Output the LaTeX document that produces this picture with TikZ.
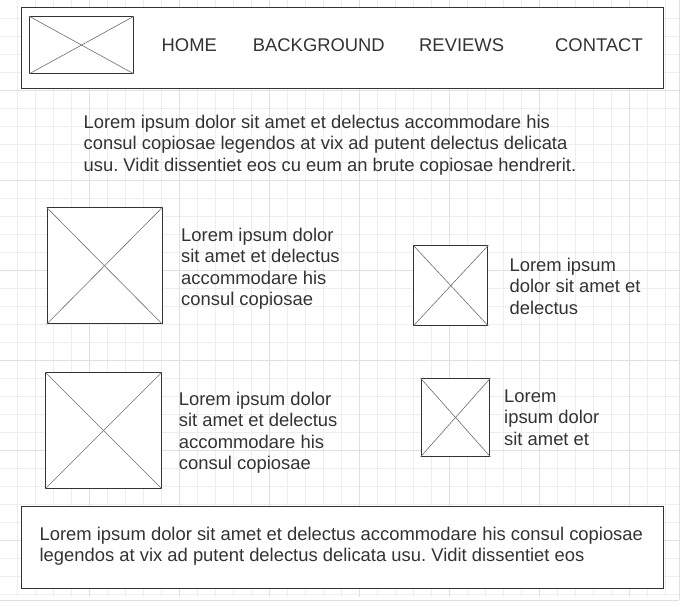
\documentclass[tikz,border=0pt]{standalone}
\usepackage{fontspec}
\setmainfont{Liberation Sans}
\definecolor{ink}{RGB}{51,51,51}
\definecolor{diag}{RGB}{110,110,110}
\definecolor{gridminor}{RGB}{238,238,238}
\definecolor{gridmajor}{RGB}{224,224,224}
\tikzset{
  frame/.style={draw=ink, line width=1pt, fill=white},
  cross/.style={draw=diag, line width=0.6pt},
  txt/.style={inner sep=0pt, text=ink, align=left, anchor=north west, font=\fontsize{18.4}{21.5}\selectfont\frenchspacing},
  nav/.style={inner sep=0pt, text=ink, anchor=base west, font=\fontsize{18.4}{21.5}\selectfont},
}
\begin{document}
\begin{tikzpicture}[x=1pt,y=-1pt]
\useasboundingbox (0,0) rectangle (681,606);
\fill[white] (0,0) rectangle (681,606);
% grid
\foreach \i in {1,...,37} {
  \pgfmathsetmacro{\xx}{18*\i-0.5}
  \draw[gridminor, line width=0.7pt] (\xx,0) -- (\xx,597);
}
\foreach \j in {1,...,33} {
  \pgfmathsetmacro{\yy}{18*\j}
  \draw[gridminor, line width=0.7pt] (0,\yy) -- (679,\yy);
}
\foreach \i in {1,...,7} {
  \pgfmathsetmacro{\xx}{90*\i-0.5}
  \draw[gridmajor, line width=0.7pt] (\xx,0) -- (\xx,597);
}
\foreach \j in {1,...,6} {
  \pgfmathsetmacro{\yy}{90*\j}
  \draw[gridmajor, line width=0.7pt] (0,\yy) -- (679,\yy);
}
\draw[gridmajor, line width=0.7pt] (0,600) -- (679,600);
\draw[gridmajor, line width=0.7pt] (679,0) -- (679,600);

% header
\node[frame, minimum width=642pt, minimum height=81.5pt, anchor=north west] (header) at (20.7,6.7) {};
\node[frame, minimum width=103.5pt, minimum height=56.5pt, anchor=north west] (logo) at (29.3,16.3) {};
\draw[cross] (logo.north west) -- (logo.south east);
\draw[cross] (logo.south west) -- (logo.north east);
\node[nav] (home) at (161.5,51.7) {HOME};
\node[nav] (background) at (252.7,51.7) {BACKGROUND};
\node[nav] (reviews) at (419,51.7) {REVIEWS};
\node[nav] (contact) at (555,51.7) {CONTACT};

% intro
\node[txt] (intro) at (83.4,114.7) {Lorem ipsum dolor sit amet et delectus accommodare his\\consul copiosae legendos at vix ad putent delectus delicata\\usu. Vidit dissentiet eos cu eum an brute copiosae hendrerit.};

% image 1
\node[frame, minimum width=115pt, minimum height=116pt, anchor=north west] (img1) at (46.5,207.3) {};
\draw[cross] (img1.north west) -- (img1.south east);
\draw[cross] (img1.south west) -- (img1.north east);
\node[txt] (t1) at (181,227.6) {Lorem ipsum dolor\\sit amet et delectus\\accommodare his\\consul copiosae};

% image 2
\node[frame, minimum width=74pt, minimum height=79.7pt, anchor=north west] (img2) at (413.3,245.3) {};
\draw[cross] (img2.north west) -- (img2.south east);
\draw[cross] (img2.south west) -- (img2.north east);
\node[txt] (t2) at (509.4,257.7) {Lorem ipsum\\dolor sit amet et\\delectus};

% image 3
\node[frame, minimum width=115.4pt, minimum height=115.4pt, anchor=north west] (img3) at (45.3,372.3) {};
\draw[cross] (img3.north west) -- (img3.south east);
\draw[cross] (img3.south west) -- (img3.north east);
\node[txt] (t3) at (178.7,391.5) {Lorem ipsum dolor\\sit amet et delectus\\accommodare his\\consul copiosae};

% image 4
\node[frame, minimum width=68.6pt, minimum height=77.4pt, anchor=north west] (img4) at (420.7,378.3) {};
\draw[cross] (img4.north west) -- (img4.south east);
\draw[cross] (img4.south west) -- (img4.north east);
\node[txt] (t4) at (504,389.5) {Lorem\\ipsum dolor\\sit amet et};

% footer
\node[frame, minimum width=642.6pt, minimum height=82pt, anchor=north west] (footer) at (20.7,506.3) {};
\node[txt] (ft) at (39.4,526.6) {Lorem ipsum dolor sit amet et delectus accommodare his consul copiosae\\legendos at vix ad putent delectus delicata usu. Vidit dissentiet eos};
\end{tikzpicture}
\end{document}
